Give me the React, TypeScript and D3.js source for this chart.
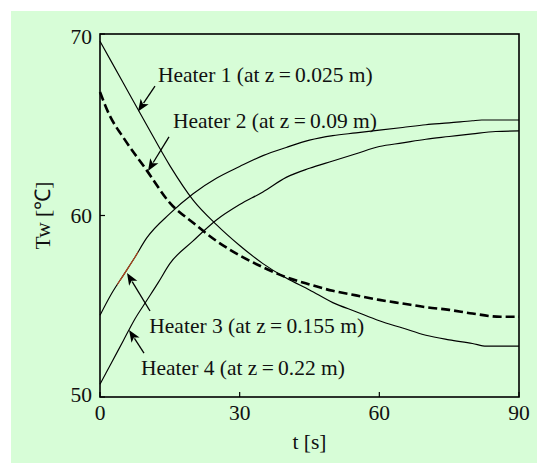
import React from "react";
import * as d3 from "d3";

// ---- data (time in s, wall temperature in °C) ----
const heater1T = [0, 5, 10, 15, 20, 25, 30, 35, 40, 45, 50, 55, 60, 65, 70, 75, 80, 83, 90];
const heater1V = [69.6, 67.3, 65.0, 62.75, 60.85, 59.5, 58.35, 57.35, 56.55, 55.9, 55.2, 54.7, 54.2, 53.8, 53.4, 53.15, 52.95, 52.8, 52.8];

const heater2T = [0, 2, 5, 10, 15, 20, 25, 30, 35, 40, 45, 50, 55, 60, 65, 70, 75, 80, 86, 90];
const heater2V = [66.8, 65.55, 64.3, 62.5, 60.7, 59.6, 58.6, 57.8, 57.15, 56.6, 56.2, 55.85, 55.6, 55.35, 55.15, 54.95, 54.8, 54.6, 54.42, 54.42];

const heater3T = [0, 2.5, 5, 7.5, 10, 15, 20, 25, 30, 35, 40, 45, 50, 55, 60, 65, 70, 75, 80, 82, 90];
const heater3V = [54.5, 55.7, 56.7, 57.7, 58.75, 60.1, 61.2, 62.05, 62.7, 63.3, 63.75, 64.15, 64.4, 64.55, 64.7, 64.85, 65.0, 65.1, 65.22, 65.26, 65.26];

const heater4T = [0, 2.5, 5, 7.5, 10, 12.5, 15, 20, 25, 30, 35, 40, 45, 50, 55, 60, 65, 70, 75, 80, 85, 90];
const heater4V = [50.7, 51.9, 53.1, 54.3, 55.3, 56.3, 57.35, 58.6, 59.75, 60.6, 61.3, 62.1, 62.6, 63.0, 63.4, 63.8, 64.0, 64.2, 64.35, 64.5, 64.63, 64.66];

const xTicks = [0, 30, 60, 90];
const yTicks = [50, 60, 70];

const labelTexts = [
  "Heater 1 (at z\u2009=\u20090.025 m)",
  "Heater 2 (at z\u2009=\u20090.09 m)",
  "Heater 3 (at z\u2009=\u20090.155 m)",
  "Heater 4 (at z\u2009=\u20090.22 m)",
];
// label anchor (t, Tw) - left/baseline
const labelT = [12.46, 15.68, 10.59, 8.81];
const labelV = [67.36, 64.82, 53.53, 51.21];
// arrows: tail and tip in data units
const arrowTailT = [11.81, 14.82, 10.74, 9.45];
const arrowTailV = [67.13, 64.33, 54.74, 52.42];
const arrowTipT = [8.16, 10.31, 5.8, 6.23];
const arrowTipV = [65.73, 62.45, 56.83, 53.69];

const W = 537;
const H = 463;
const M = { left: 100, right: 519, top: 34, bottom: 397 };
const FONT = "'Liberation Serif', 'Times New Roman', serif";

export default function App() {
  const x = d3.scaleLinear().domain([0, 90]).range([M.left, M.right]);
  const y = d3.scaleLinear().domain([50, 70]).range([M.bottom, M.top]);

  const line = d3
    .line<[number, number]>()
    .x((d) => x(d[0]))
    .y((d) => y(d[1]))
    .curve(d3.curveMonotoneX);

  const zip = (a: number[], b: number[]) => a.map((t, i) => [t, b[i]] as [number, number]);

  const s1 = line(zip(heater1T, heater1V)) || "";
  const s2 = line(zip(heater2T, heater2V)) || "";
  const s3 = line(zip(heater3T, heater3V)) || "";
  const s4 = line(zip(heater4T, heater4V)) || "";

  const arrowHead = (i: number) => {
    const x1 = x(arrowTailT[i]);
    const y1 = y(arrowTailV[i]);
    const x2 = x(arrowTipT[i]);
    const y2 = y(arrowTipV[i]);
    const ang = Math.atan2(y2 - y1, x2 - x1);
    const L = 12;
    const hw = 4.8;
    const bx = x2 - L * Math.cos(ang);
    const by = y2 - L * Math.sin(ang);
    const px = -Math.sin(ang) * hw;
    const py = Math.cos(ang) * hw;
    return {
      line: `M${x1},${y1}L${bx + 2 * Math.cos(ang)},${by + 2 * Math.sin(ang)}`,
      head: `M${x2},${y2}L${bx + px},${by + py}L${bx + 3 * Math.cos(ang)},${by + 3 * Math.sin(ang)}L${bx - px},${by - py}Z`,
    };
  };

  return (
    <svg
      width={W}
      height={H}
      style={{ position: "absolute", left: 0, top: 0, display: "block" }}
      fontFamily={FONT}
    >
      <rect x={0} y={0} width={W} height={H} fill="#ffffff" />
      <rect x={11} y={11} width={W - 11} height={H - 11} fill="#d7fdd7" />

      <defs>
        <clipPath id="redclip">
          <rect x={x(3.7)} y={M.top} width={x(8.2) - x(3.7)} height={M.bottom - M.top} />
        </clipPath>
      </defs>

      {/* curves */}
      <path d={s1} fill="none" stroke="#000" strokeWidth={1.15} />
      <path d={s3} fill="none" stroke="#000" strokeWidth={1.15} />
      <path d={s3} fill="none" stroke="#b8481e" strokeWidth={1.1} clipPath="url(#redclip)" />
      <path d={s4} fill="none" stroke="#000" strokeWidth={1.15} />
      <path d={s2} fill="none" stroke="#000" strokeWidth={2.6} strokeDasharray="9,4" />

      {/* frame */}
      <rect
        x={M.left}
        y={M.top}
        width={M.right - M.left}
        height={M.bottom - M.top}
        fill="none"
        stroke="#000"
        strokeWidth={1.6}
      />

      {/* x ticks */}
      {xTicks.map((t) => (
        <g key={"xt" + t}>
          <line x1={x(t)} x2={x(t)} y1={M.bottom} y2={M.bottom - 5} stroke="#000" strokeWidth={1.2} />
          <text x={x(t)} y={420} fontSize={21.5} textAnchor="middle" fill="#111">
            {t}
          </text>
        </g>
      ))}
      {/* y ticks */}
      {yTicks.map((v) => (
        <g key={"yt" + v}>
          <line x1={M.left} x2={M.left + 5} y1={y(v)} y2={y(v)} stroke="#000" strokeWidth={1.2} />
          <text
            x={92}
            y={v === 50 ? y(v) + 5 : v === 70 ? y(v) + 10 : y(v) + 7.5}
            fontSize={21.5}
            textAnchor="end"
            fill="#111"
          >
            {v}
          </text>
        </g>
      ))}

      {/* axis titles */}
      <text x={(M.left + M.right) / 2} y={449} fontSize={21.5} textAnchor="middle" fill="#111">
        t [s]
      </text>
      <text
        transform={`translate(50, ${(M.top + M.bottom) / 2}) rotate(-90)`}
        fontSize={21.5}
        textAnchor="middle"
        fill="#111"
      >
        Tw [℃]
      </text>

      {/* annotations */}
      {labelTexts.map((s, i) => {
        const a = arrowHead(i);
        return (
          <g key={"lab" + i}>
            <text x={x(labelT[i])} y={y(labelV[i])} fontSize={21.5} fill="#111">
              {s}
            </text>
            <path d={a.line} stroke="#000" strokeWidth={1.3} fill="none" />
            <path d={a.head} fill="#000" />
          </g>
        );
      })}
    </svg>
  );
}
